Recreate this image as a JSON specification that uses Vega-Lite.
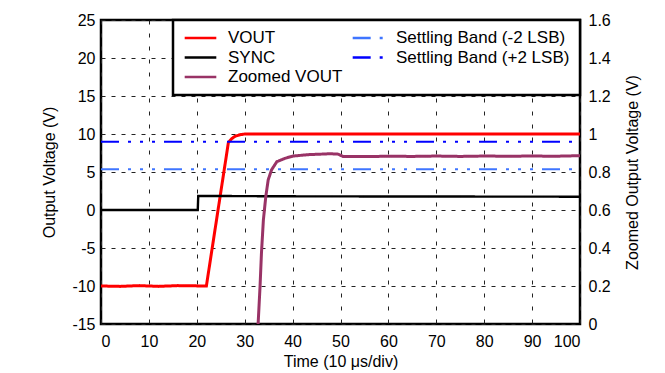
{
  "$schema": "https://vega.github.io/schema/vega-lite/v6.json",
  "width": 479,
  "height": 304,
  "autosize": "none",
  "padding": {"left": 101, "top": 20, "right": 85, "bottom": 49},
  "background": "white",
  "datasets": {
    "vout": [
      {"series": "VOUT", "t": 0, "v": -10},
      {"series": "VOUT", "t": 4, "v": -10.05},
      {"series": "VOUT", "t": 8, "v": -9.95},
      {"series": "VOUT", "t": 12, "v": -10.05},
      {"series": "VOUT", "t": 16, "v": -9.95},
      {"series": "VOUT", "t": 22, "v": -10},
      {"series": "VOUT", "t": 26.6, "v": 8.9},
      {"series": "VOUT", "t": 27.3, "v": 9.4},
      {"series": "VOUT", "t": 28, "v": 9.7},
      {"series": "VOUT", "t": 29, "v": 9.9},
      {"series": "VOUT", "t": 30, "v": 10},
      {"series": "VOUT", "t": 50, "v": 10},
      {"series": "VOUT", "t": 100, "v": 10}
    ],
    "sync": [
      {"series": "SYNC", "t": 0, "v": 0},
      {"series": "SYNC", "t": 20.2, "v": 0},
      {"series": "SYNC", "t": 20.3, "v": 1.85},
      {"series": "SYNC", "t": 40, "v": 1.8},
      {"series": "SYNC", "t": 60, "v": 1.78},
      {"series": "SYNC", "t": 100, "v": 1.75}
    ],
    "zoomed": [
      {"series": "Zoomed VOUT", "t": 32.6, "v": -0.05},
      {"series": "Zoomed VOUT", "t": 32.8, "v": 0},
      {"series": "Zoomed VOUT", "t": 33.2, "v": 0.196},
      {"series": "Zoomed VOUT", "t": 33.5, "v": 0.374},
      {"series": "Zoomed VOUT", "t": 33.9, "v": 0.547},
      {"series": "Zoomed VOUT", "t": 34.4, "v": 0.67},
      {"series": "Zoomed VOUT", "t": 34.9, "v": 0.758},
      {"series": "Zoomed VOUT", "t": 35.6, "v": 0.811},
      {"series": "Zoomed VOUT", "t": 36.7, "v": 0.854},
      {"series": "Zoomed VOUT", "t": 38.4, "v": 0.872},
      {"series": "Zoomed VOUT", "t": 40.1, "v": 0.884},
      {"series": "Zoomed VOUT", "t": 43.6, "v": 0.892},
      {"series": "Zoomed VOUT", "t": 45, "v": 0.893},
      {"series": "Zoomed VOUT", "t": 47.8, "v": 0.896},
      {"series": "Zoomed VOUT", "t": 49.5, "v": 0.894},
      {"series": "Zoomed VOUT", "t": 50.5, "v": 0.882},
      {"series": "Zoomed VOUT", "t": 55, "v": 0.881},
      {"series": "Zoomed VOUT", "t": 60, "v": 0.883},
      {"series": "Zoomed VOUT", "t": 65, "v": 0.882},
      {"series": "Zoomed VOUT", "t": 70, "v": 0.884},
      {"series": "Zoomed VOUT", "t": 75, "v": 0.882},
      {"series": "Zoomed VOUT", "t": 80, "v": 0.884},
      {"series": "Zoomed VOUT", "t": 85, "v": 0.883},
      {"series": "Zoomed VOUT", "t": 90, "v": 0.884},
      {"series": "Zoomed VOUT", "t": 95, "v": 0.883},
      {"series": "Zoomed VOUT", "t": 100, "v": 0.886}
    ],
    "bands": [
      {"series": "Settling Band (-2 LSB)", "t": 0, "v": 0.814},
      {"series": "Settling Band (-2 LSB)", "t": 100, "v": 0.814},
      {"series": "Settling Band (+2 LSB)", "t": 0, "v": 0.959},
      {"series": "Settling Band (+2 LSB)", "t": 100, "v": 0.959}
    ]
  },
  "config": {
    "view": {"stroke": "black", "strokeWidth": 2.5},
    "font": "Liberation Sans",
    "axis": {
      "labelFont": "Liberation Sans",
      "labelFontSize": 16,
      "labelColor": "black",
      "labelOverlap": false,
      "titleFont": "Liberation Sans",
      "titleFontSize": 16,
      "titleFontWeight": "normal",
      "titleColor": "black",
      "ticks": false,
      "domain": false,
      "gridColor": "#222222",
      "gridWidth": 1,
      "gridOpacity": 1
    },
    "legend": {
      "symbolType": "stroke",
      "symbolSize": 1000,
      "symbolStrokeWidth": 2.5,
      "clipHeight": 16,
      "labelFont": "Liberation Sans",
      "labelFontSize": 17,
      "labelColor": "black",
      "labelLimit": 400,
      "labelOffset": 10,
      "fillColor": "white",
      "strokeColor": "black",
      "strokeWidth": 2.5,
      "padding": 10,
      "offset": 0,
      "columnPadding": 8,
      "rowPadding": 2.5
    }
  },
  "resolve": {"scale": {"y": "independent"}},
  "layer": [
    {
      "layer": [
        {
          "data": {"name": "vout"},
          "mark": {"type": "line", "strokeWidth": 3, "clip": true},
          "encoding": {
            "x": {"field": "t", "type": "quantitative", "scale": {"domain": [0, 100], "nice": false},
                  "axis": {"values": [0, 10, 20, 30, 40, 50, 60, 70, 80, 90, 100], "tickCount": 20, "grid": true, "gridDash": [4, 9], "title": "Time (10 μs/div)", "labelPadding": 9, "titlePadding": 4}},
            "y": {"field": "v", "type": "quantitative", "scale": {"domain": [-15, 25], "nice": false},
                  "axis": {"orient": "left", "values": [-15, -10, -5, 0, 5, 10, 15, 20, 25], "tickCount": 20, "labelOverlap": false, "labelExpr": "'' + datum.value", "grid": true, "gridDash": [4, 6], "title": "Output Voltage (V)", "labelPadding": 6, "titlePadding": 14}},
            "color": {"field": "series", "type": "nominal",
                      "scale": {"domain": ["VOUT", "SYNC", "Zoomed VOUT", "Settling Band (-2 LSB)", "Settling Band (+2 LSB)"],
                                "range": ["#ff0000", "#000000", "#993366", "#3f75ff", "#0000ff"]},
                      "legend": {"title": null, "columns": 2, "orient": "top-right"}},
            "strokeDash": {"field": "series", "type": "nominal",
                      "scale": {"domain": ["VOUT", "SYNC", "Zoomed VOUT", "Settling Band (-2 LSB)", "Settling Band (+2 LSB)"],
                                "range": [[1, 0], [1, 0], [1, 0], [18, 9, 3, 9, 3, 9, 3, 9], [18, 9, 3, 9, 3, 9, 3, 9]]},
                      "legend": {"title": null, "columns": 2, "orient": "top-right"}}
          }
        },
        {
          "data": {"name": "sync"},
          "mark": {"type": "line", "strokeWidth": 2.4},
          "encoding": {
            "x": {"field": "t", "type": "quantitative"},
            "y": {"field": "v", "type": "quantitative"},
            "color": {"field": "series", "type": "nominal"},
            "strokeDash": {"field": "series", "type": "nominal"}
          }
        }
      ]
    },
    {
      "layer": [
        {
          "data": {"name": "bands"},
          "mark": {"type": "line", "strokeWidth": 2},
          "encoding": {
            "x": {"field": "t", "type": "quantitative"},
            "y": {"field": "v", "type": "quantitative", "scale": {"domain": [0, 1.6], "nice": false},
                  "axis": {"orient": "right", "values": [0, 0.2, 0.4, 0.6, 0.8, 1, 1.2, 1.4, 1.6], "tickCount": 20, "labelOverlap": false, "format": "~g", "grid": false, "title": "Zoomed Output Voltage (V)", "titleAngle": 270, "labelPadding": 8, "titlePadding": 30}},
            "color": {"field": "series", "type": "nominal"},
            "strokeDash": {"field": "series", "type": "nominal"}
          }
        },
        {
          "data": {"name": "zoomed"},
          "mark": {"type": "line", "strokeWidth": 3, "clip": true},
          "encoding": {
            "x": {"field": "t", "type": "quantitative"},
            "y": {"field": "v", "type": "quantitative"},
            "color": {"field": "series", "type": "nominal"},
            "strokeDash": {"field": "series", "type": "nominal"}
          }
        }
      ]
    }
  ]
}
